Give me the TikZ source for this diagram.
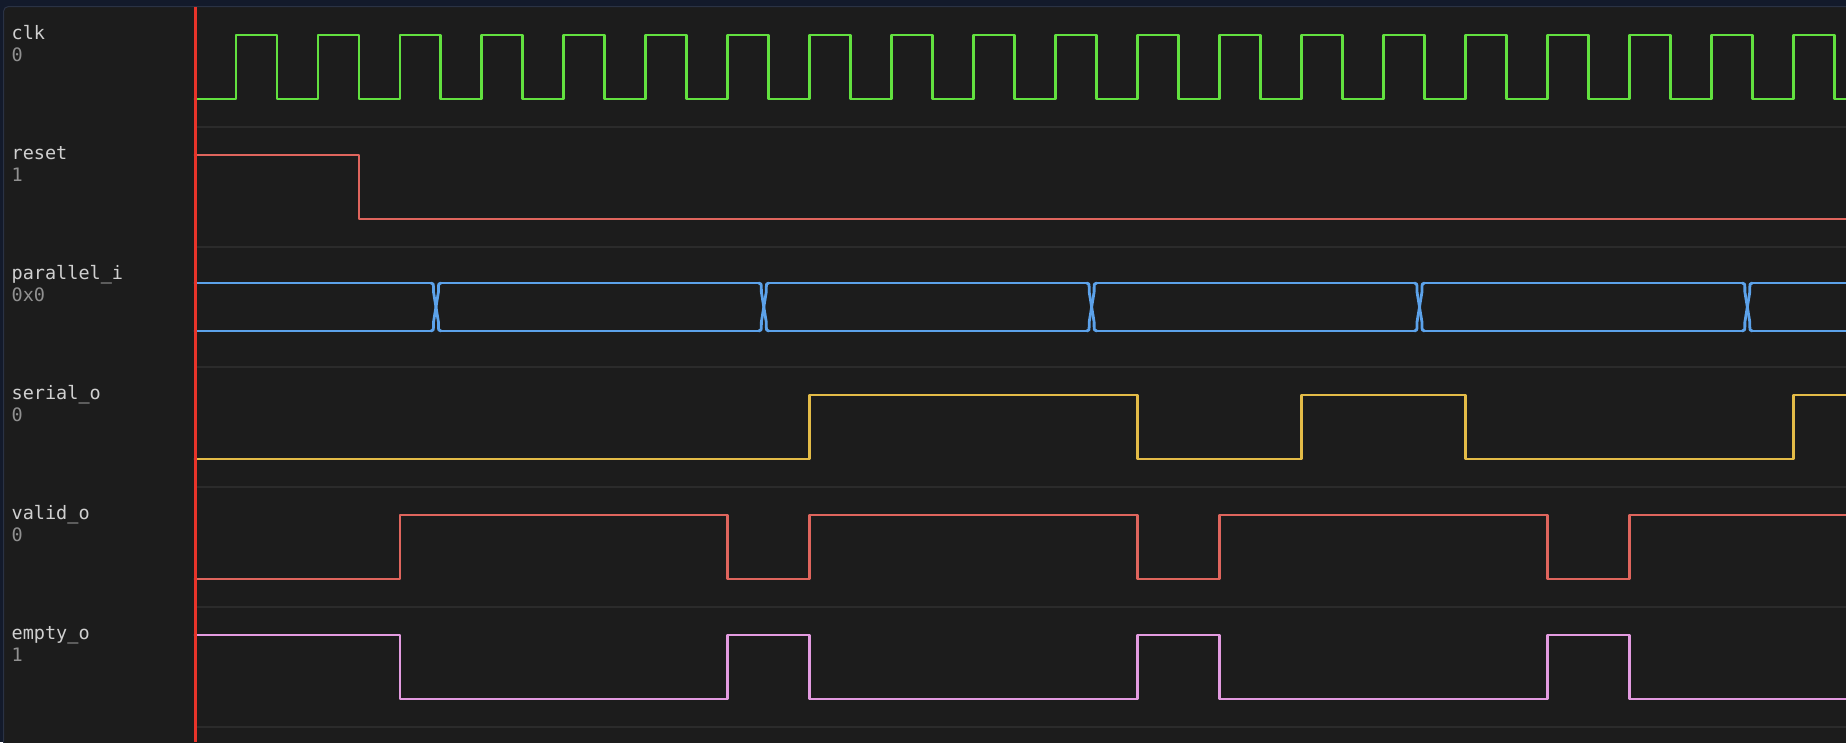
\documentclass[tikz,border=0pt]{standalone}
\usepackage{fontspec}
\newfontfamily\monof{DejaVu Sans Mono}
\definecolor{outerbg}{HTML}{131A2B}
\definecolor{panelbg}{HTML}{1C1C1C}
\definecolor{panelline}{HTML}{2A3244}
\definecolor{sepc}{HTML}{2B2B2B}
\definecolor{cursorc}{HTML}{E8342A}
\definecolor{clkc}{HTML}{62E03F}
\definecolor{redc}{HTML}{DF655D}
\definecolor{bluec}{HTML}{5CA2EA}
\definecolor{yellowc}{HTML}{E3BB47}
\definecolor{pinkc}{HTML}{E39BE0}
\definecolor{namec}{HTML}{D0D0D0}
\definecolor{valc}{HTML}{909090}
\tikzset{
  wave/.style={line width=2.8pt, line join=round, line cap=round},
  sepline/.style={draw=sepc, line width=2pt},
  sname/.style={anchor=base west, inner sep=0pt, text=namec, font=\monof\fontsize{18.5}{20}\selectfont},
  sval/.style={anchor=base west, inner sep=0pt, text=valc, font=\monof\fontsize{18.5}{20}\selectfont},
}
\begin{document}
\begin{tikzpicture}[x=1pt,y={(0pt,-1pt)}]
\useasboundingbox (0,0) rectangle (1846,742);
\clip (0,0) rectangle (1846,742);
\fill[outerbg] (0,0) rectangle (1846,742);
\draw[draw=panelline, line width=1pt, fill=panelbg, rounded corners=5pt] (3.5,6.5) rectangle (1900,800);
% separators
\foreach \yy in {127,247,367,487,607,727} \draw[sepline] (197,\yy) -- (1846,\yy);
% labels
\node[sname] (n1) at (11.5,39.5) {clk};
\node[sval]  (v1) at (11.5,61) {0};
\node[sname] (n2) at (11.5,159.5) {reset};
\node[sval]  (v2) at (11.5,181) {1};
\node[sname] (n3) at (11.5,279.5) {parallel\_i};
\node[sval]  (v3) at (11.5,301) {0x0};
\node[sname] (n4) at (11.5,399.5) {serial\_o};
\node[sval]  (v4) at (11.5,421) {0};
\node[sname] (n5) at (11.5,519.5) {valid\_o};
\node[sval]  (v5) at (11.5,541) {0};
\node[sname] (n6) at (11.5,639.5) {empty\_o};
\node[sval]  (v6) at (11.5,661) {1};
% waves
\begin{scope}[shift={(195,0)}, x=40.98pt]
  % clk
  \draw[wave, clkc] (0,99) \foreach \i in {0,...,19} { -- ({2*\i+1},99) -- ({2*\i+1},35) -- ({2*\i+2},35) -- ({2*\i+2},99) } -- (42,99);
  % reset
  \draw[wave, redc] (0,155) -- (4,155) -- (4,219) -- (42,219);
  % parallel_i bus
  \foreach \a/\b in {0/5.758, 6.002/13.758, 14.002/21.758, 22.002/29.758, 30.002/37.758, 38.002/42} {
    \draw[wave, bluec] (\a,283) -- (\b,283);
    \draw[wave, bluec] (\a,331) -- (\b,331);
  }
  \foreach \c in {5.88,13.88,21.88,29.88,37.88} {
    \draw[wave, bluec] ({\c-0.122},283) .. controls ({\c-0.06},283) .. ({\c-0.06},292) -- ({\c+0.06},322) .. controls ({\c+0.06},331) .. ({\c+0.122},331);
    \draw[wave, bluec] ({\c-0.122},331) .. controls ({\c-0.06},331) .. ({\c-0.06},322) -- ({\c+0.06},292) .. controls ({\c+0.06},283) .. ({\c+0.122},283);
  }
  % serial_o
  \draw[wave, yellowc] (0,459) -- (15,459) -- (15,395) -- (23,395) -- (23,459) -- (27,459) -- (27,395) -- (31,395) -- (31,459) -- (39,459) -- (39,395) -- (42,395);
  % valid_o
  \draw[wave, redc] (0,579) -- (5,579) -- (5,515) -- (13,515) -- (13,579) -- (15,579) -- (15,515) -- (23,515) -- (23,579) -- (25,579) -- (25,515) -- (33,515) -- (33,579) -- (35,579) -- (35,515) -- (42,515);
  % empty_o
  \draw[wave, pinkc] (0,635) -- (5,635) -- (5,699) -- (13,699) -- (13,635) -- (15,635) -- (15,699) -- (23,699) -- (23,635) -- (25,635) -- (25,699) -- (33,699) -- (33,635) -- (35,635) -- (35,699) -- (42,699);
\end{scope}
% cursor
\coordinate (ctop) at (195.5,7);
\coordinate (cbot) at (195.5,742);
\draw[cursorc, line width=3.2pt] (ctop) -- (cbot);
\end{tikzpicture}
\end{document}
